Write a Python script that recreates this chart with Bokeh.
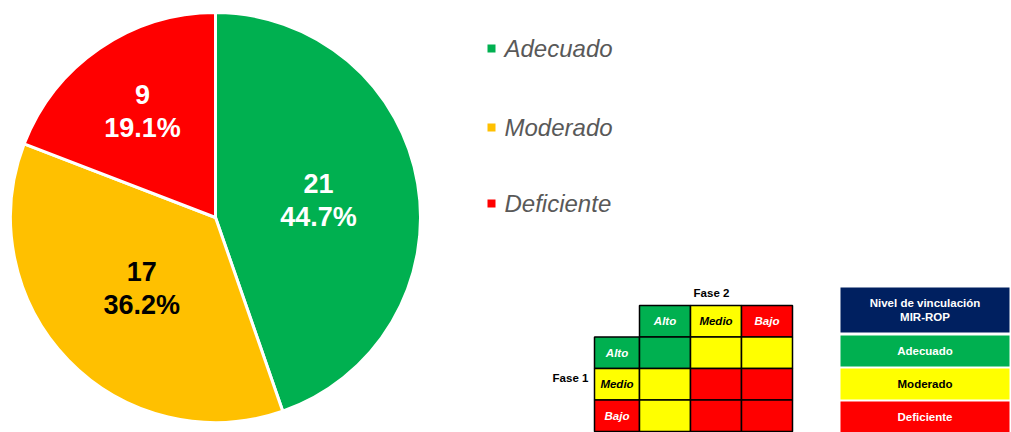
import math
from bokeh.plotting import figure
from bokeh.models import Range1d
from bokeh.core.properties import value
from bokeh.embed import file_html
from bokeh.resources import INLINE

# ---------------- data ----------------
categories = ["Adecuado", "Moderado", "Deficiente"]
counts = [21, 17, 9]
pie_colors = ["#00B050", "#FFC000", "#FF0000"]
label_colors = ["white", "black", "white"]

fase_levels = ["Alto", "Medio", "Bajo"]
level_colors = ["#00B050", "#FFFF00", "#FF0000"]
level_text_colors = ["white", "black", "white"]
# matrix rows = Fase 1 level, cols = Fase 2 level; value = category index
matrix = [[0, 1, 1],
          [1, 2, 2],
          [1, 2, 2]]
table_title = ["Nivel de vinculación", "MIR-ROP"]
table_colors = ["#00B050", "#FFFF00", "#FF0000"]
table_text_colors = ["white", "black", "white"]

FONT = value("Liberation Sans")

W, H = 1011, 432
p = figure(width=W, height=H, output_backend="svg", toolbar_location=None,
           x_range=Range1d(0, W), y_range=Range1d(0, H),
           min_border=0, outline_line_color=None)
p.axis.visible = False
p.grid.visible = False
p.background_fill_color = "white"
p.border_fill_color = "white"


def Y(py):
    return H - py


# ---------------- pie ----------------
cx, cy = 215, Y(217)
R = 205
total = sum(counts)
angle = math.pi / 2
starts, ends, mids = [], [], []
for c in counts:
    sweep = 2 * math.pi * c / total
    starts.append(angle - sweep)
    ends.append(angle)
    mids.append(angle - sweep / 2)
    angle -= sweep

p.wedge(x=[cx] * 3, y=[cy] * 3, radius=R,
        start_angle=starts, end_angle=ends,
        fill_color=pie_colors, line_color="white", line_width=3)

lr = [0.51, 0.50, 0.63]
for i, c in enumerate(counts):
    pct = 100.0 * c / total
    lx = cx + lr[i] * R * math.cos(mids[i])
    ly = cy + lr[i] * R * math.sin(mids[i])
    p.text(x=[lx], y=[ly], text=[f"{c}\n{pct:.1f}%"], text_align="center",
           text_baseline="middle", text_color=label_colors[i],
           text_font=FONT, text_font_size="27px", text_font_style="bold",
           text_line_height=1.1)

# ---------------- legend ----------------
leg_y = [48, 127, 203]
for i, cat in enumerate(categories):
    p.scatter(x=[491], y=[Y(leg_y[i])], marker="square", size=8,
              fill_color=pie_colors[i], line_color=None)
    p.text(x=[504], y=[Y(leg_y[i])], text=[cat], text_align="left",
           text_baseline="middle", text_color="#595959", text_font=FONT,
           text_font_size="24px", text_font_style="italic")

# ---------------- matrix ----------------
mx0, mw = 639, 51
rh_x0 = 594
my0, mh = 305, 31.5

# column headers (Fase 2)
for j, lev in enumerate(fase_levels):
    l, r = mx0 + j * mw, mx0 + (j + 1) * mw
    t, b = my0, my0 + mh
    p.quad(left=[l], right=[r], top=[Y(t)], bottom=[Y(b)],
           fill_color=level_colors[j], line_color="black", line_width=1.5)
    p.text(x=[(l + r) / 2], y=[Y((t + b) / 2)], text=[lev], text_align="center",
           text_baseline="middle", text_color=level_text_colors[j],
           text_font=FONT, text_font_size="11.5px", text_font_style="bold italic")

# row headers (Fase 1) and cells
for i, lev in enumerate(fase_levels):
    t, b = my0 + (i + 1) * mh, my0 + (i + 2) * mh
    p.quad(left=[rh_x0], right=[mx0], top=[Y(t)], bottom=[Y(b)],
           fill_color=level_colors[i], line_color="black", line_width=1.5)
    p.text(x=[(rh_x0 + mx0) / 2], y=[Y((t + b) / 2)], text=[lev],
           text_align="center", text_baseline="middle",
           text_color=level_text_colors[i], text_font=FONT,
           text_font_size="11.5px", text_font_style="bold italic")
    for j in range(3):
        l, r = mx0 + j * mw, mx0 + (j + 1) * mw
        p.quad(left=[l], right=[r], top=[Y(t)], bottom=[Y(b)],
               fill_color=table_colors[matrix[i][j]], line_color="black",
               line_width=1.5)

p.text(x=[711], y=[Y(292)], text=["Fase 2"], text_align="center",
       text_baseline="middle", text_color="black", text_font=FONT,
       text_font_size="11.5px", text_font_style="bold")
p.text(x=[570], y=[Y(377)], text=["Fase 1"], text_align="center",
       text_baseline="middle", text_color="black", text_font=FONT,
       text_font_size="11.5px", text_font_style="bold")

# ---------------- right table ----------------
tl, tr = 840, 1009
p.quad(left=[tl], right=[tr], top=[Y(287)], bottom=[Y(332)],
       fill_color="#002060", line_color=None)
p.text(x=[(tl + tr) / 2], y=[Y(309.5)], text=["\n".join(table_title)],
       text_align="center", text_baseline="middle", text_color="white",
       text_font=FONT, text_font_size="11.5px", text_font_style="bold",
       text_line_height=1.2)
row_t = [335, 368, 401]
row_h = 31
for k, cat in enumerate(categories):
    t, b = row_t[k], row_t[k] + row_h
    p.quad(left=[tl], right=[tr], top=[Y(t)], bottom=[Y(b)],
           fill_color=table_colors[k], line_color=None)
    p.text(x=[(tl + tr) / 2], y=[Y((t + b) / 2)], text=[cat],
           text_align="center", text_baseline="middle",
           text_color=table_text_colors[k], text_font=FONT,
           text_font_size="11.5px", text_font_style="bold")

open("out.html", "w").write(file_html(p, INLINE))
